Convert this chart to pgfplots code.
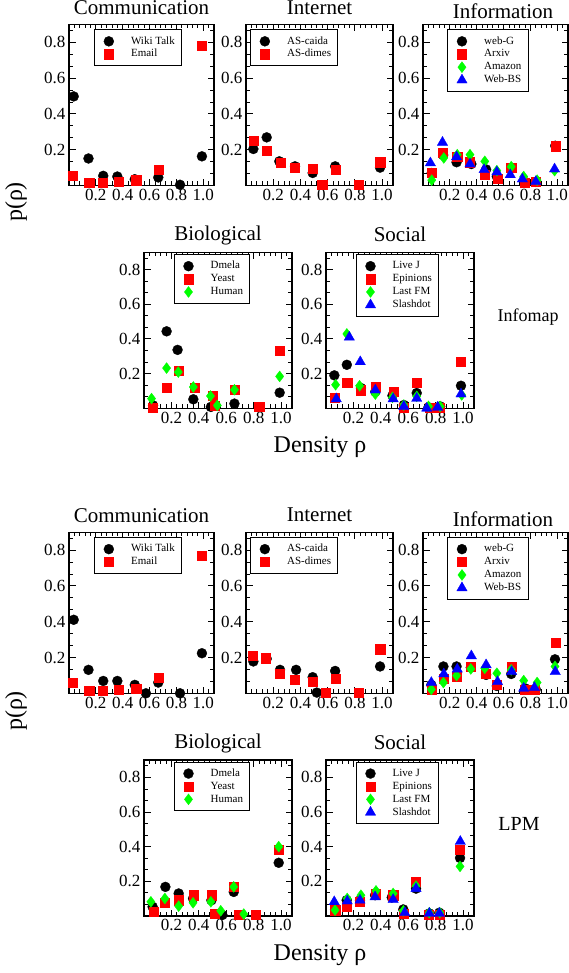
\documentclass[border=0pt]{standalone}
\usepackage{pgfplots}
\pgfplotsset{compat=1.18}
\usepackage{fontspec}
\setmainfont{Liberation Serif}
\pgfplotsset{
 every axis title shift=0pt,
 panel/.style={
  scale only axis, anchor=north west, clip=false,
  xmin=0, xmax=1.08, ymin=0, ymax=0.9,
  xtick={0,0.2,0.4,0.6,0.8,1.0}, xticklabels={,0.2,0.4,0.6,0.8,1.0},
  ytick={0,0.2,0.4,0.6,0.8}, yticklabels={,0.2,0.4,0.6,0.8},
  minor xtick={0,0.04,...,1.08},
  minor ytick={0,0.0667,0.1333,0.2667,0.3333,0.4667,0.5333,0.6667,0.7333,0.8667},
  tick align=inside,
  major tick length=6.5pt, minor tick length=4pt,
  axis line style={line width=1.5pt},
  major tick style={line width=1pt,black},
  minor tick style={line width=0.8pt,black},
  tick label style={font=\fontsize{17}{17}\selectfont},
  title style={font=\fontsize{21}{21}\selectfont, at={(0.5,1)}, anchor=base},
  legend cell align=left,
  legend image code/.code={\path[draw=none,fill=none] (0pt,0pt) -- (30pt,0pt);
    \draw[#1,/tikz/only marks] plot coordinates {(11.5pt,0pt)};},
  legend style={anchor=north west, draw=black, line width=0.8pt,
    font=\fontsize{11}{11}\selectfont, inner xsep=3pt, inner ysep=5.5pt,
    nodes={inner xsep=3.7pt, inner ysep=1.2pt, text height=7.5pt, text depth=2pt},
    row sep=1pt},
 },
 s1/.style={only marks, mark=*, mark size=5pt, black, mark options={line width=0.3pt}},
 s2/.style={only marks, mark=square*, mark size=4.6pt, red, mark options={line width=0.3pt}},
 s3/.style={only marks, mark=diamond*, mark size=5.5pt, green, mark options={line width=0.3pt}},
 s4/.style={only marks, mark=triangle*, mark size=6pt, blue, mark options={line width=0.3pt}},
}
\begin{document}
\begin{tikzpicture}
\useasboundingbox (0pt,0pt) rectangle (569pt,-973pt);
%================ INFOMAP ================
\begin{axis}[panel, at={(69pt,-24.5pt)}, width=145pt, height=161pt,
  title={Communication}, title style={yshift=9.5pt},
  legend style={at={(0.172,0.969)}}]
\addplot[s1] coordinates {(0.035,0.498)(0.145,0.151)(0.255,0.054)(0.36,0.05)(0.49,0.035)(0.665,0.045)(0.827,0.004)(0.99,0.163)};
\addplot[s2] coordinates {(0.03,0.054)(0.15,0.017)(0.25,0.015)(0.37,0.022)(0.5,0.03)(0.665,0.088)(0.99,0.78)};
\legend{Wiki Talk,Email}
\end{axis}
\begin{axis}[panel, at={(246pt,-24.5pt)}, width=147pt, height=161pt,
  title={Internet}, title style={yshift=9.5pt},
  legend style={at={(0.027,0.969)}}]
\addplot[s1] coordinates {(0.054,0.204)(0.152,0.269)(0.245,0.135)(0.36,0.107)(0.49,0.07)(0.655,0.107)(0.985,0.10)};
\addplot[s2] coordinates {(0.054,0.25)(0.15,0.196)(0.255,0.126)(0.36,0.10)(0.49,0.092)(0.56,0.005)(0.66,0.088)(0.825,0.005)(0.985,0.13)};
\legend{AS-caida,AS-dimes}
\end{axis}
\begin{axis}[panel, at={(423pt,-24.5pt)}, width=145pt, height=161pt,
  title={Information}, title style={yshift=5.5pt, xshift=7.5pt},
  legend style={at={(0.166,0.969)}}]
\addplot[s1] coordinates {(0.065,0.07)(0.15,0.17)(0.25,0.13)(0.36,0.12)(0.47,0.09)(0.55,0.05)(0.657,0.10)(0.76,0.02)(0.84,0.02)(0.985,0.222)};
\addplot[s2] coordinates {(0.065,0.07)(0.147,0.185)(0.255,0.163)(0.35,0.13)(0.46,0.06)(0.555,0.036)(0.657,0.10)(0.76,0.015)(0.84,0.02)(0.985,0.22)};
\addplot[s3] coordinates {(0.065,0.03)(0.155,0.154)(0.255,0.172)(0.35,0.172)(0.46,0.135)(0.55,0.083)(0.657,0.105)(0.75,0.05)(0.85,0.03)(0.98,0.083)};
\addplot[s4] coordinates {(0.055,0.126)(0.145,0.241)(0.25,0.16)(0.35,0.12)(0.455,0.088)(0.55,0.075)(0.65,0.06)(0.74,0.036)(0.84,0.022)(0.98,0.092)};
\legend{web-G,Arxiv,Amazon,Web-BS}
\end{axis}
\begin{axis}[panel, at={(144pt,-252.3pt)}, width=148pt, height=156pt,
  title={Biological}, title style={yshift=11.6pt},
  legend style={at={(0.2,0.987)}}]
\addplot[s1] coordinates {(0.066,0.017)(0.165,0.444)(0.245,0.337)(0.36,0.052)(0.488,0.008)(0.66,0.027)(0.99,0.09)};
\addplot[s2] coordinates {(0.066,0.004)(0.165,0.119)(0.25,0.218)(0.37,0.119)(0.5,0.071)(0.515,0.017)(0.66,0.107)(0.84,0.011)(0.99,0.333)};
\addplot[s3] coordinates {(0.055,0.056)(0.165,0.232)(0.25,0.209)(0.36,0.123)(0.485,0.071)(0.535,0.017)(0.66,0.107)(0.99,0.184)};
\legend{Dmela,Yeast,Human}
\end{axis}
\begin{axis}[panel, at={(326pt,-252.3pt)}, width=148pt, height=156pt,
  title={Social}, title style={yshift=10.6pt},
  legend style={at={(0.2,0.987)}}]
\addplot[s1] coordinates {(0.061,0.19)(0.152,0.251)(0.255,0.117)(0.36,0.096)(0.485,0.073)(0.568,0.019)(0.662,0.088)(0.748,0.006)(0.833,0.011)(0.985,0.13)};
\addplot[s2] coordinates {(0.061,0.063)(0.155,0.149)(0.255,0.105)(0.365,0.126)(0.495,0.098)(0.568,0.006)(0.662,0.149)(0.76,0.006)(0.825,0.006)(0.985,0.268)};
\addplot[s3] coordinates {(0.07,0.136)(0.152,0.429)(0.245,0.13)(0.36,0.082)(0.485,0.063)(0.568,0.019)(0.662,0.069)(0.748,0.011)(0.833,0.011)(0.99,0.077)};
\addplot[s4] coordinates {(0.075,0.054)(0.17,0.41)(0.25,0.268)(0.36,0.105)(0.49,0.054)(0.568,0.011)(0.662,0.057)(0.735,0.0)(0.815,0.006)(0.985,0.082)};
\legend{Live J,Epinions,Last FM,Slashdot}
\end{axis}
%================ LPM ================
\begin{axis}[panel, at={(69pt,-532.3pt)}, width=145pt, height=161pt,
  title={Communication}, title style={yshift=9.6pt},
  legend style={at={(0.172,0.969)}}]
\addplot[s1] coordinates {(0.035,0.411)(0.145,0.131)(0.255,0.069)(0.36,0.069)(0.49,0.047)(0.573,0)(0.665,0.06)(0.827,0)(0.99,0.224)};
\addplot[s2] coordinates {(0.03,0.06)(0.15,0.015)(0.25,0.015)(0.37,0.019)(0.5,0.028)(0.665,0.088)(0.99,0.771)};
\legend{Wiki Talk,Email}
\end{axis}
\begin{axis}[panel, at={(246pt,-532.3pt)}, width=147pt, height=161pt,
  title={Internet}, title style={yshift=11pt},
  legend style={at={(0.027,0.969)}}]
\addplot[s1] coordinates {(0.054,0.178)(0.152,0.193)(0.25,0.131)(0.368,0.131)(0.49,0.09)(0.52,0.004)(0.655,0.125)(0.985,0.15)};
\addplot[s2] coordinates {(0.05,0.211)(0.147,0.196)(0.245,0.112)(0.36,0.075)(0.49,0.065)(0.588,0.004)(0.66,0.084)(0.825,0.004)(0.985,0.247)};
\legend{AS-caida,AS-dimes}
\end{axis}
\begin{axis}[panel, at={(423pt,-532.3pt)}, width=145pt, height=161pt,
  title={Information}, title style={yshift=6pt, xshift=7.5pt},
  legend style={at={(0.166,0.969)}}]
\addplot[s1] coordinates {(0.062,0.047)(0.152,0.15)(0.25,0.15)(0.356,0.144)(0.47,0.103)(0.55,0.041)(0.657,0.108)(0.76,0.028)(0.84,0.022)(0.983,0.19)};
\addplot[s2] coordinates {(0.066,0.019)(0.152,0.084)(0.25,0.093)(0.356,0.15)(0.466,0.112)(0.55,0.05)(0.66,0.15)(0.76,0.019)(0.83,0.019)(0.985,0.284)};
\addplot[s3] coordinates {(0.062,0.022)(0.152,0.06)(0.25,0.099)(0.356,0.136)(0.46,0.14)(0.55,0.112)(0.657,0.131)(0.75,0.071)(0.85,0.06)(0.983,0.15)};
\addplot[s4] coordinates {(0.062,0.06)(0.155,0.108)(0.255,0.135)(0.36,0.209)(0.47,0.159)(0.555,0.065)(0.66,0.121)(0.75,0.028)(0.83,0.032)(0.985,0.121)};
\legend{web-G,Arxiv,Amazon,Web-BS}
\end{axis}
\begin{axis}[panel, at={(144pt,-760pt)}, width=148pt, height=156pt,
  title={Biological}, title style={yshift=11.7pt},
  legend style={at={(0.2,0.989)}}]
\addplot[s1] coordinates {(0.063,0.053)(0.156,0.168)(0.253,0.13)(0.358,0.101)(0.492,0.091)(0.572,0.006)(0.655,0.139)(0.983,0.307)};
\addplot[s2] coordinates {(0.068,0.025)(0.152,0.076)(0.253,0.091)(0.365,0.12)(0.492,0.12)(0.516,0.015)(0.655,0.168)(0.694,0.006)(0.815,0.006)(0.983,0.381)};
\addplot[s3] coordinates {(0.05,0.082)(0.152,0.101)(0.253,0.057)(0.358,0.076)(0.488,0.082)(0.56,0.03)(0.655,0.168)(0.728,0.011)(0.983,0.4)};
\legend{Dmela,Yeast,Human}
\end{axis}
\begin{axis}[panel, at={(326pt,-760pt)}, width=148pt, height=156pt,
  title={Social}, title style={yshift=10.7pt},
  legend style={at={(0.2,0.989)}}]
\addplot[s1] coordinates {(0.066,0.038)(0.151,0.091)(0.248,0.091)(0.358,0.12)(0.48,0.107)(0.564,0.038)(0.657,0.158)(0.754,0.015)(0.827,0.019)(0.978,0.335)};
\addplot[s2] coordinates {(0.066,0.034)(0.151,0.053)(0.248,0.082)(0.365,0.126)(0.49,0.12)(0.564,0.015)(0.657,0.2)(0.75,0.006)(0.827,0.006)(0.978,0.381)};
\addplot[s3] coordinates {(0.066,0.034)(0.155,0.101)(0.255,0.12)(0.365,0.145)(0.49,0.13)(0.564,0.03)(0.657,0.173)(0.754,0.019)(0.83,0.019)(0.978,0.286)};
\addplot[s4] coordinates {(0.06,0.082)(0.155,0.086)(0.248,0.091)(0.358,0.11)(0.49,0.095)(0.575,0.019)(0.657,0.158)(0.754,0.015)(0.827,0.015)(0.98,0.43)};
\legend{Live J,Epinions,Last FM,Slashdot}
\end{axis}
%================ labels ================
\node[rotate=90, font=\fontsize{24}{24}\selectfont] at (16pt,-202pt) {p(ρ)};
\node[rotate=90, font=\fontsize{24}{24}\selectfont] at (16pt,-711pt) {p(ρ)};
\node[anchor=base, font=\fontsize{24}{24}\selectfont] at (320pt,-452pt) {Density ρ};
\node[anchor=base, font=\fontsize{24}{24}\selectfont] at (320pt,-960pt) {Density ρ};
\node[anchor=base, font=\fontsize{18}{18}\selectfont] at (528pt,-321.7pt) {Infomap};
\node[anchor=base, font=\fontsize{20}{20}\selectfont] at (519pt,-830pt) {LPM};
\end{tikzpicture}
\end{document}
